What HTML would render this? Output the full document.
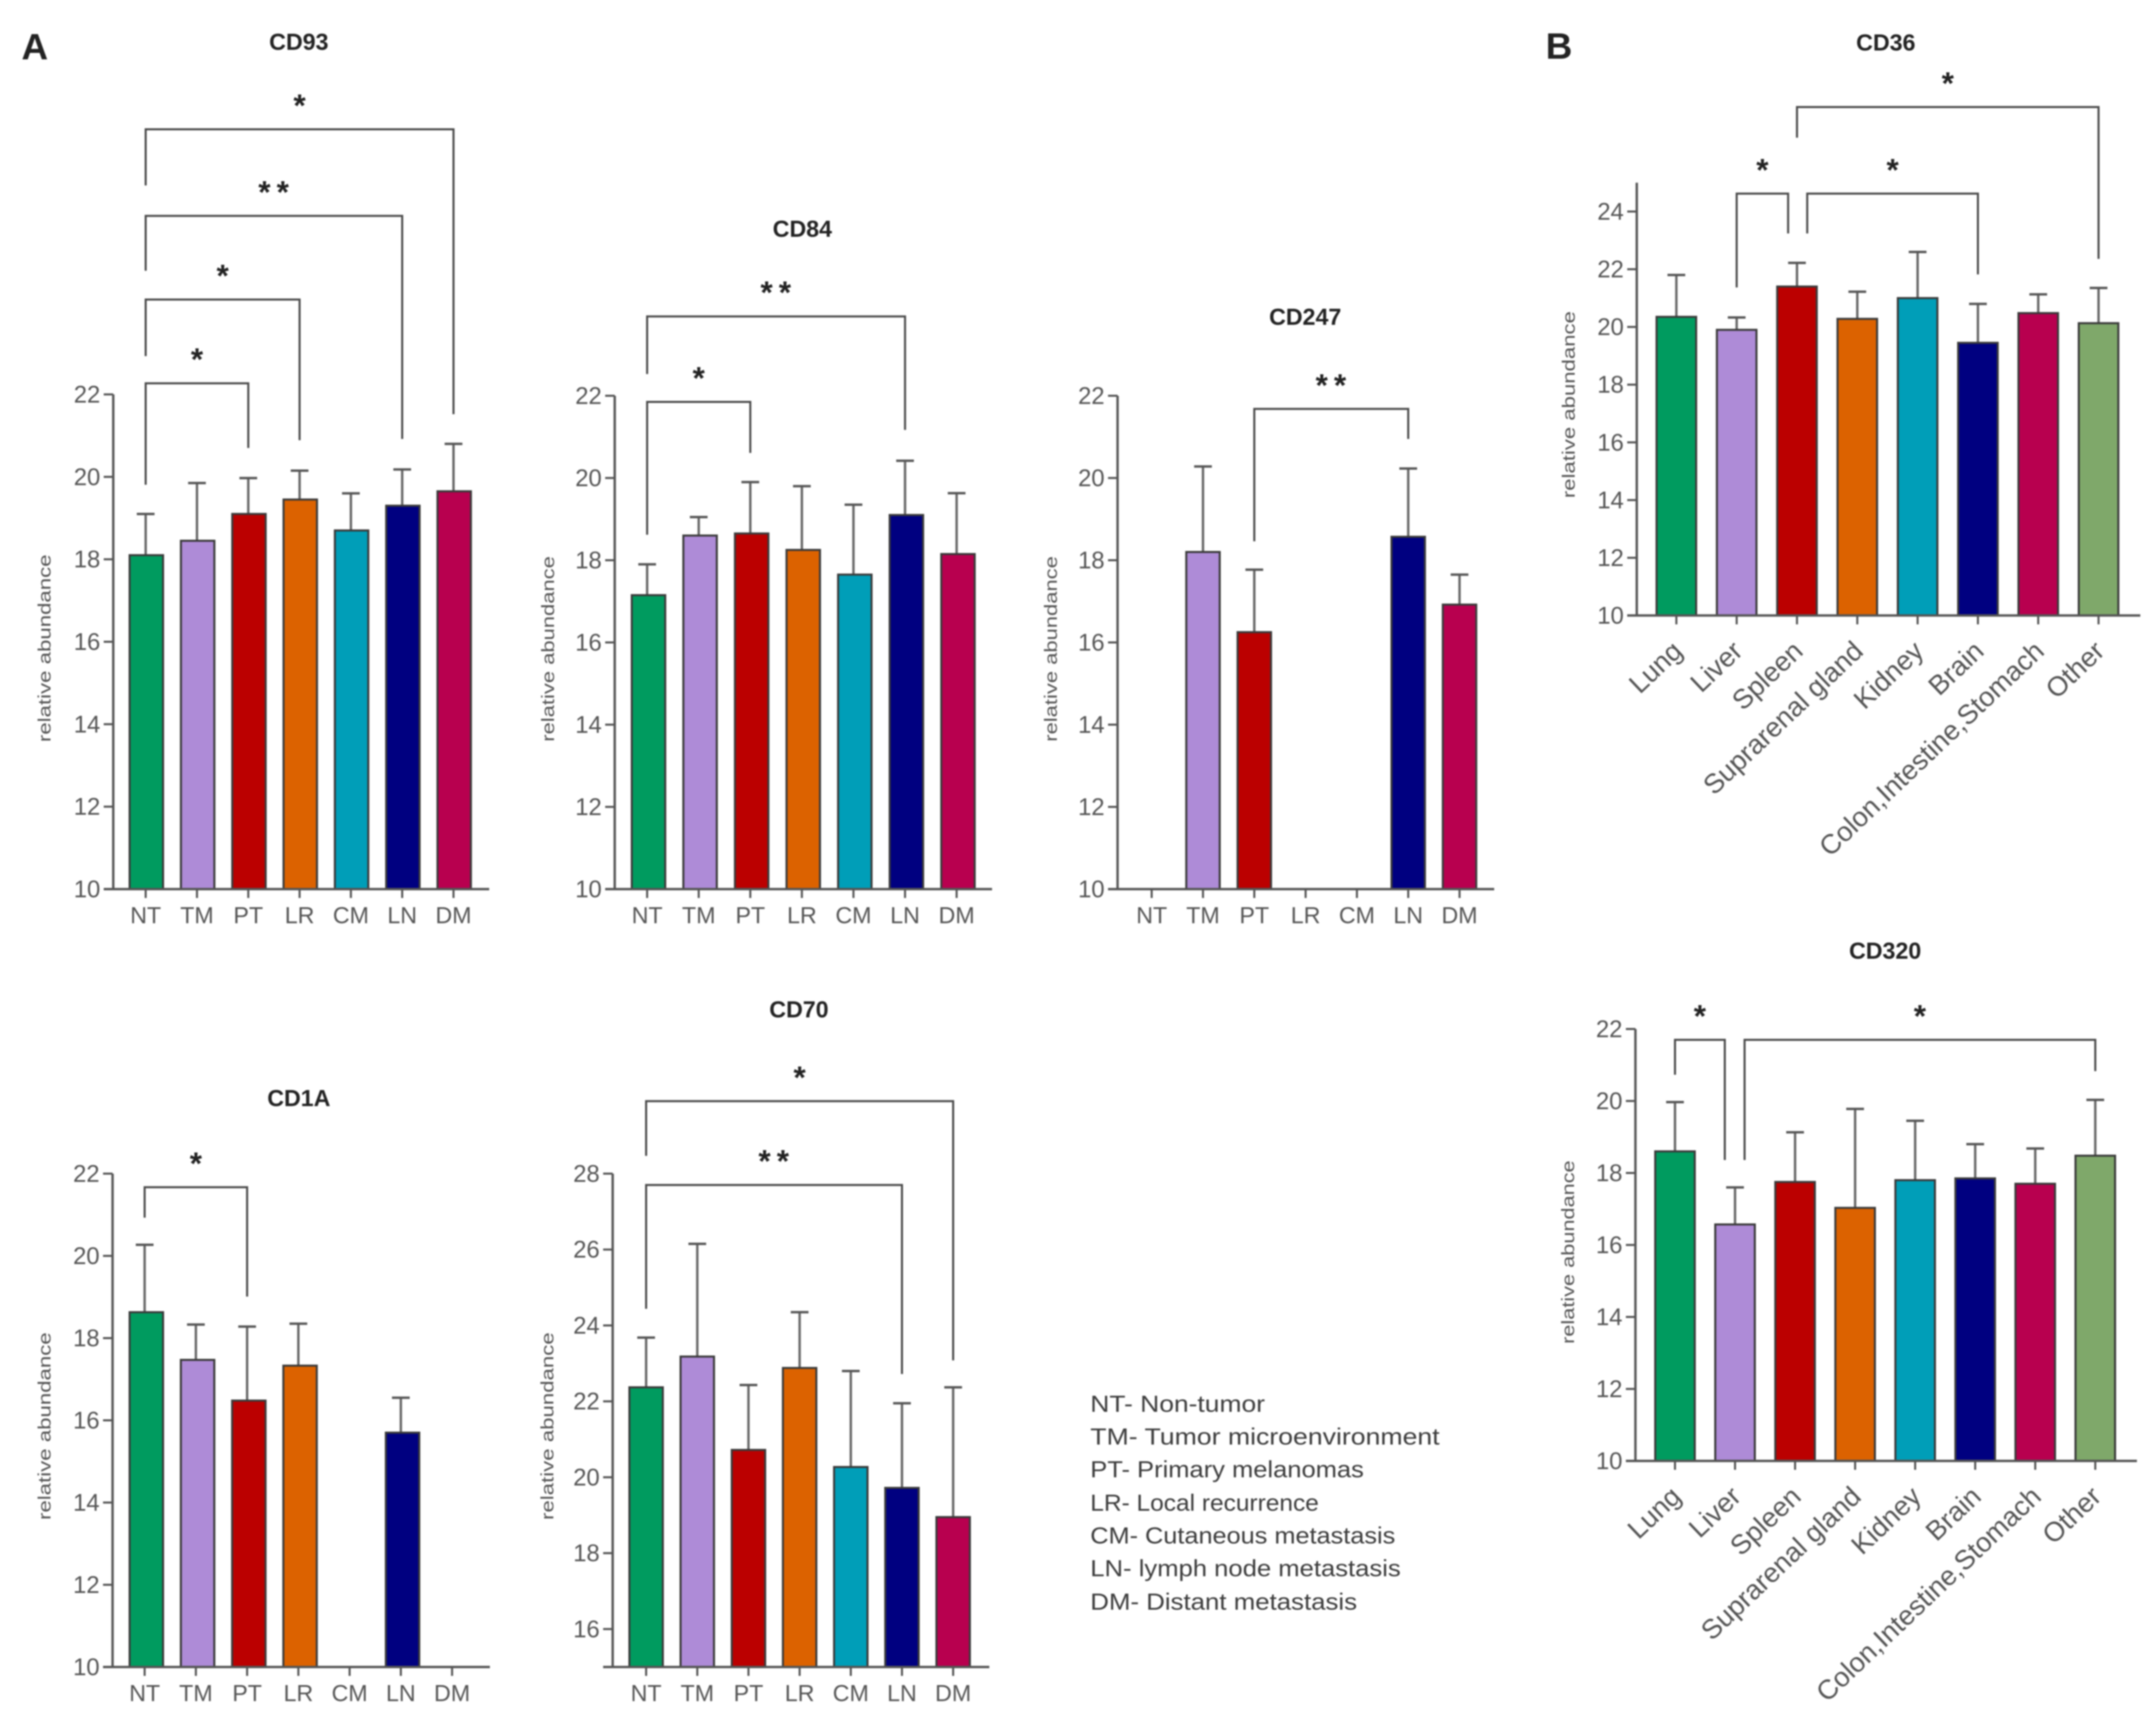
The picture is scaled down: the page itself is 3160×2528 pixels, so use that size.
<!DOCTYPE html>
<html lang="en">
<head>
<meta charset="utf-8">
<title>Relative abundance of CD markers</title>
<style>
html,body{margin:0;padding:0;background:#fff;}
#figure{display:block;width:3160px;height:2528px;filter:blur(1.1px);font-family:"Liberation Sans",sans-serif;}
</style>
</head>
<body>
<svg id="figure" xmlns="http://www.w3.org/2000/svg" width="3160" height="2528" viewBox="0 0 3160 2528">
  <rect width="3160" height="2528" fill="#ffffff"/>
  <text x="51" y="87" font-size="54" font-weight="700" text-anchor="middle" fill="#222">A</text>
  <text x="2285" y="86" font-size="54" font-weight="700" text-anchor="middle" fill="#222">B</text>
  <g font-size="34" fill="#3c3c3c">
    <text x="1598" y="2069" textLength="256" lengthAdjust="spacingAndGlyphs">NT- Non-tumor</text>
    <text x="1598" y="2117" textLength="512" lengthAdjust="spacingAndGlyphs">TM- Tumor microenvironment</text>
    <text x="1598" y="2165" textLength="401" lengthAdjust="spacingAndGlyphs">PT- Primary melanomas</text>
    <text x="1598" y="2214" textLength="335" lengthAdjust="spacingAndGlyphs">LR- Local recurrence</text>
    <text x="1598" y="2262" textLength="447" lengthAdjust="spacingAndGlyphs">CM- Cutaneous metastasis</text>
    <text x="1598" y="2310" textLength="455" lengthAdjust="spacingAndGlyphs">LN- lymph node metastasis</text>
    <text x="1598" y="2359" textLength="391" lengthAdjust="spacingAndGlyphs">DM- Distant metastasis</text>
  </g>
</svg>
<script>
// ---------- shared category and tick labels ----------
const stageCategories = ['NT', 'TM', 'PT', 'LR', 'CM', 'LN', 'DM'];
const organCategories = ['Lung', 'Liver', 'Spleen', 'Suprarenal gland', 'Kidney', 'Brain', 'Colon,Intestine,Stomach', 'Other'];
const ticks10to22 = [10, 12, 14, 16, 18, 20, 22];
const ticks10to24 = [10, 12, 14, 16, 18, 20, 22, 24];
const ticks16to28 = [16, 18, 20, 22, 24, 26, 28];

// ---------- series values (bar means and upper error limits) ----------
const cd93Means = [18.1, 18.45, 19.1, 19.45, 18.7, 19.3, 19.65];
const cd93Upper = [19.1, 19.85, 19.97, 20.15, 19.6, 20.18, 20.8];
const cd84Means = [17.15, 18.6, 18.65, 18.25, 17.65, 19.1, 18.15];
const cd84Upper = [17.9, 19.05, 19.9, 19.8, 19.35, 20.42, 19.63];
const cd247Means = [null, 18.2, 16.25, null, null, 18.57, 16.92];
const cd247Upper = [null, 20.28, 17.77, null, null, 20.23, 17.65];
const cd1aMeans = [18.63, 17.47, 16.48, 17.33, null, 15.7, null];
const cd1aUpper = [20.27, 18.33, 18.28, 18.35, null, 16.55, null];
const cd70Means = [22.37, 23.18, 20.72, 22.88, 20.27, 19.72, 18.95];
const cd70Upper = [23.68, 26.15, 22.43, 24.35, 22.8, 21.95, 22.37];
const cd36Means = [20.35, 19.9, 21.4, 20.28, 21.0, 19.45, 20.48, 20.13];
const cd36Upper = [21.8, 20.33, 22.22, 21.22, 22.6, 20.8, 21.13, 21.35];
const cd320Means = [18.6, 16.57, 17.75, 17.03, 17.8, 17.85, 17.7, 18.48];
const cd320Upper = [19.97, 17.6, 19.13, 19.78, 19.45, 18.8, 18.68, 20.03];

// ---------- significance brackets: category indexes and levels in axis units ----------
const cd93Brackets = [
  {from: 0, to: 6, top: 28.43, fromEnd: 27.07, toEnd: 21.52, stars: '*'},
  {from: 0, to: 5, top: 26.33, fromEnd: 25.0, toEnd: 20.92, stars: '**'},
  {from: 0, to: 3, top: 24.3, fromEnd: 22.93, toEnd: 20.89, stars: '*'},
  {from: 0, to: 2, top: 22.27, fromEnd: 19.81, toEnd: 20.7, stars: '*'}
];
const cd84Brackets = [
  {from: 0, to: 5, top: 23.93, fromEnd: 22.53, toEnd: 21.17, stars: '**'},
  {from: 0, to: 2, top: 21.85, fromEnd: 18.62, toEnd: 20.61, stars: '*'}
];
const cd247Brackets = [
  {from: 2, to: 5, top: 21.68, fromEnd: 18.46, toEnd: 20.95, stars: '**'}
];
const cd1aBrackets = [
  {from: 0, to: 2, top: 21.67, fromEnd: 20.93, toEnd: 19.01, stars: '*'}
];
const cd70Brackets = [
  {from: 0, to: 6, top: 29.91, fromEnd: 28.47, toEnd: 23.08, stars: '*'},
  {from: 0, to: 5, top: 27.7, fromEnd: 24.44, toEnd: 22.72, stars: '**'}
];
const cd36Brackets = [
  {from: 2, to: 7, top: 27.62, fromEnd: 26.56, toEnd: 22.36, stars: '*'},
  {from: 1, to: 2, toShift: -13, top: 24.62, fromEnd: 21.37, toEnd: 23.24, stars: '*'},
  {from: 2, fromShift: 15, to: 5, top: 24.62, fromEnd: 23.24, toEnd: 21.82, stars: '*'}
];
const cd320Brackets = [
  {from: 0, to: 1, toShift: -15, top: 21.7, fromEnd: 20.73, toEnd: 18.36, stars: '*'},
  {from: 1, fromShift: 14, to: 7, top: 21.7, fromEnd: 18.36, toEnd: 20.83, stars: '*'}
];

// ---------- colours ----------
const stageColors = ['#009B5F', '#AE8BD7', '#BB0000', '#DC6200', '#009EB8', '#000080', '#B8004F'];
const organColors = ['#009B5F', '#AE8BD7', '#BB0000', '#DC6200', '#009EB8', '#000080', '#B8004F', '#7FA86A'];

// ---------- panel geometry ----------
const panels = [
  {id: 'cd93', title: 'CD93', titleX: 438, titleY: 73, axisX: 166, firstX: 213.5, stepX: 75.2, endX: 717, barShift: 1,
   pxTop: 578, pxBottom: 1303, vTop: 22, vBottom: 10, axisTopValue: 22,
   labelX: 65, labelY: 950, labelLen: 275, barW: 49,
   cats: stageCategories, means: cd93Means, upper: cd93Upper, ticks: ticks10to22, colors: stageColors, brackets: cd93Brackets},
  {id: 'cd84', title: 'CD84', titleX: 1176, titleY: 347, axisX: 901, firstX: 948.5, stepX: 75.6, endX: 1454, barShift: 2,
   pxTop: 580, pxBottom: 1303, vTop: 22, vBottom: 10, axisTopValue: 22,
   labelX: 803, labelY: 951, labelLen: 272, barW: 49,
   cats: stageCategories, means: cd84Means, upper: cd84Upper, ticks: ticks10to22, colors: stageColors, brackets: cd84Brackets},
  {id: 'cd247', title: 'CD247', titleX: 1913, titleY: 476, axisX: 1638, firstX: 1688, stepX: 75.2, endX: 2190, barShift: 0,
   pxTop: 580, pxBottom: 1303, vTop: 22, vBottom: 10, axisTopValue: 22,
   labelX: 1540, labelY: 951, labelLen: 272, barW: 49,
   cats: stageCategories, means: cd247Means, upper: cd247Upper, ticks: ticks10to22, colors: stageColors, brackets: cd247Brackets},
  {id: 'cd1a', title: 'CD1A', titleX: 438, titleY: 1621, axisX: 165, firstX: 212, stepX: 75.1, endX: 718, barShift: 2.5,
   pxTop: 1720, pxBottom: 2443, vTop: 22, vBottom: 10, axisTopValue: 22,
   labelX: 65, labelY: 2090, labelLen: 275, barW: 49,
   cats: stageCategories, means: cd1aMeans, upper: cd1aUpper, ticks: ticks10to22, colors: stageColors, brackets: cd1aBrackets},
  {id: 'cd70', title: 'CD70', titleX: 1171, titleY: 1491, axisX: 898, firstX: 947, stepX: 75, endX: 1450, barShift: 0,
   pxTop: 1720, pxBottom: 2443, vTop: 28, vBottom: 15, axisTopValue: 28,
   labelX: 802, labelY: 2090, labelLen: 275, barW: 49,
   cats: stageCategories, means: cd70Means, upper: cd70Upper, ticks: ticks16to28, colors: stageColors, brackets: cd70Brackets},
  {id: 'cd36', title: 'CD36', titleX: 2764, titleY: 74, axisX: 2399, firstX: 2457, stepX: 88.4, endX: 3137, barShift: 0,
   pxTop: 310, pxBottom: 902, vTop: 24, vBottom: 10, axisTopValue: 25,
   labelX: 2299, labelY: 593, labelLen: 274, barW: 58, rotated: true,
   cats: organCategories, means: cd36Means, upper: cd36Upper, ticks: ticks10to24, colors: organColors, brackets: cd36Brackets},
  {id: 'cd320', title: 'CD320', titleX: 2763, titleY: 1405, axisX: 2397, firstX: 2455, stepX: 88, endX: 3132, barShift: 0,
   pxTop: 1508, pxBottom: 2141, vTop: 22, vBottom: 10, axisTopValue: 22,
   labelX: 2298, labelY: 1835, labelLen: 269, barW: 58, rotated: true,
   cats: organCategories, means: cd320Means, upper: cd320Upper, ticks: ticks10to22, colors: organColors, brackets: cd320Brackets}
];

// ---------- drawing ----------
const SVG_NS = 'http://www.w3.org/2000/svg';
const figure = document.getElementById('figure');

function make(tag, attrs, parent, text) {
  const node = document.createElementNS(SVG_NS, tag);
  for (const key in attrs) node.setAttribute(key, attrs[key]);
  if (text !== undefined) node.textContent = text;
  parent.appendChild(node);
  return node;
}
function yScale(p, v) {
  return p.pxBottom - (v - p.vBottom) * (p.pxBottom - p.pxTop) / (p.vTop - p.vBottom);
}
function xScale(p, i) {
  return p.firstX + i * p.stepX;
}

panels.forEach(function (p) {
  const chart = make('g', {}, figure);
  
  

  const title = make('text', {x: p.titleX, y: p.titleY, 'font-size': 34, 'font-weight': 700, 'text-anchor': 'middle', fill: '#222'}, chart, p.title);
  
  

  const yTitle = make('text', {
    x: 0, y: 0, 'font-size': 26, 'text-anchor': 'middle', fill: '#555',
    transform: 'translate(' + (p.labelX + 9) + ' ' + p.labelY + ') rotate(-90)',
    textLength: p.labelLen, lengthAdjust: 'spacingAndGlyphs'
  }, chart, 'relative abundance');
  
  

  // bars and error bars
  p.means.forEach(function (mean, i) {
    if (mean === null) return;
    const cx = xScale(p, i);
    const top = yScale(p, mean);
    const cap = yScale(p, p.upper[i]);

    const stem = make('line', {x1: cx, x2: cx, y1: top, y2: cap, stroke: '#666', 'stroke-width': 3.5}, chart);
    
    

    const capLine = make('line', {x1: cx - 13, x2: cx + 13, y1: cap, y2: cap, stroke: '#555', 'stroke-width': 3.5}, chart);
    
    

    const bar = make('rect', {
      x: cx + p.barShift - p.barW / 2, y: top, width: p.barW, height: p.pxBottom - top,
      fill: p.colors[i], stroke: '#3a3a3a', 'stroke-width': 3
    }, chart);
    
    
  });

  // y axis
  const yAxis = make('line', {x1: p.axisX, x2: p.axisX, y1: yScale(p, p.axisTopValue), y2: p.pxBottom, stroke: '#555', 'stroke-width': 3.5}, chart);
  
  

  p.ticks.forEach(function (t) {
    const y = yScale(p, t);
    const tick = make('line', {x1: p.axisX - 14, x2: p.axisX, y1: y, y2: y, stroke: '#555', 'stroke-width': 3}, chart);
    
    
    const label = make('text', {x: p.axisX - 19, y: y + 12, 'font-size': 35, 'text-anchor': 'end', fill: '#555'}, chart, String(t));
    
    
  });

  // x axis
  const xAxis = make('line', {x1: p.axisX - 14, x2: p.endX, y1: p.pxBottom, y2: p.pxBottom, stroke: '#555', 'stroke-width': 3.5}, chart);
  
  

  p.cats.forEach(function (c, i) {
    const cx = xScale(p, i);
    const tick = make('line', {x1: cx, x2: cx, y1: p.pxBottom, y2: p.pxBottom + 13, stroke: '#555', 'stroke-width': 3}, chart);
    
    
    const attrs = p.rotated
      ? {x: 0, y: 0, 'font-size': 40, 'text-anchor': 'end', fill: '#555',
         transform: 'translate(' + (cx + 11) + ' ' + (p.pxBottom + 55) + ') rotate(-43.5)'}
      : {x: cx, y: p.pxBottom + 50, 'font-size': 34, 'text-anchor': 'middle', fill: '#555'};
    const label = make('text', attrs, chart, c);
    
    
  });

  // significance brackets
  p.brackets.forEach(function (b) {
    const x1 = xScale(p, b.from) + (b.fromShift || 0);
    const x2 = xScale(p, b.to) + (b.toShift || 0);
    const yt = yScale(p, b.top);
    const d = 'M' + x1 + ' ' + yScale(p, b.fromEnd) + 'V' + yt + 'H' + x2 + 'V' + yScale(p, b.toEnd);
    const path = make('path', {d: d, fill: 'none', stroke: '#4a4a4a', 'stroke-width': 3}, chart);
    
    
    const star = make('text', {
      x: (x1 + x2) / 2 + (b.stars.length > 1 ? 4 : 0), y: yt - 19, 'font-size': 46, 'font-weight': 700, 'text-anchor': 'middle',
      'letter-spacing': b.stars.length > 1 ? 9 : 0, fill: '#222'
    }, chart, b.stars);
    
    
  });
});
</script>
</body>
</html>
